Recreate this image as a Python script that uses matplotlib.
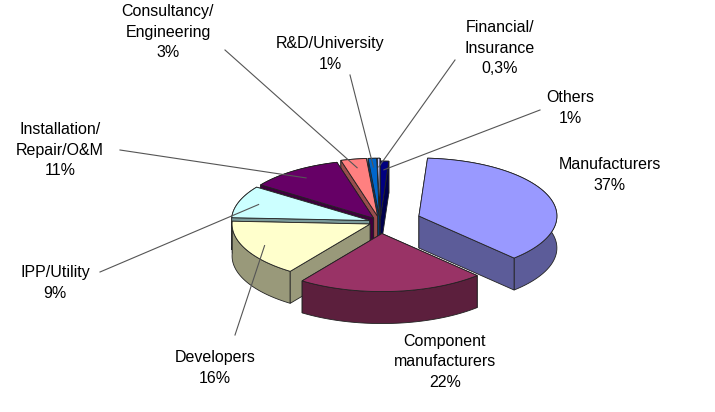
import numpy as np
import matplotlib.pyplot as plt
from matplotlib.patches import Polygon
import matplotlib.colors as mcolors

labels = ["Others\n1%", "Manufacturers\n37%", "Component\nmanufacturers\n22%", "Developers\n16%",
          "IPP/Utility\n9%", "Installation/\nRepair/O&M\n11%", "Consultancy/\nEngineering\n3%",
          "R&D/University\n1%", "Financial/\nInsurance\n0,3%"]
values = [1, 37, 22, 16, 9, 11, 3, 1, 0.3]
colors = ["#000080", "#9999FF", "#993366", "#FFFFCC", "#CCFFFF", "#660066", "#FF8080", "#0066CC", "#CCCCFF"]
explode = [0.05, 0.3, 0.2, 0.08, 0.08, 0.08, 0.1, 0.1, 0.1]

# text positions (pixel coords) and leader line anchors
text_pos = [(570, 108), (610, 175), (445, 362), (215, 368), (55, 283), (60, 150), (168, 32), (330, 54), (500, 48)]
line_from = [(540, 110), None, None, (235, 335), (100, 272), (120, 150), (225, 50), (350, 75), (455, 60)]

cx, cy, rx, ry, depth = 380, 222, 138, 58, 32

fig = plt.figure(figsize=(7.15, 4.12), dpi=100)
ax = fig.add_axes([0, 0, 1, 1])
ax.set_xlim(0, 715)
ax.set_ylim(412, 0)
ax.axis("off")

fr = np.array(values) / sum(values)
start = np.pi / 2
slices = []
for i, f in enumerate(fr):
    a0 = start
    a1 = start - f * 2 * np.pi
    start = a1
    mid = (a0 + a1) / 2
    ox = cx + explode[i] * rx * np.cos(mid)
    oy = cy - explode[i] * ry * np.sin(mid)
    slices.append((a0, a1, mid, ox, oy))

def pt(ox, oy, a, dz=0):
    return ox + rx * np.cos(a), oy - ry * np.sin(a) + dz

walls = []
for i, (a0, a1, mid, ox, oy) in enumerate(slices):
    dark = np.array(mcolors.to_rgb(colors[i])) * 0.6
    ang = np.linspace(a0, a1, 60)
    top = [pt(ox, oy, a) for a in ang]
    bot = [pt(ox, oy, a, depth) for a in ang[::-1]]
    walls.append((oy - ry * np.sin(mid) * 0.5 + 0.01 * i, top + bot, dark))
    for a in (a0, a1):
        p = pt(ox, oy, a)
        walls.append((oy - ry * np.sin(a) * 0.5, [(ox, oy), p, (p[0], p[1] + depth), (ox, oy + depth)], dark))
for z, poly, c in sorted(walls, key=lambda w: w[0]):
    ax.add_patch(Polygon(poly, closed=True, facecolor=c, edgecolor="#222222", lw=0.6))
for i, (a0, a1, mid, ox, oy) in enumerate(slices):
    ang = np.linspace(a0, a1, 80)
    poly = [(ox, oy)] + [pt(ox, oy, a) for a in ang]
    ax.add_patch(Polygon(poly, closed=True, facecolor=colors[i], edgecolor="#222222", lw=0.6))

for i, (a0, a1, mid, ox, oy) in enumerate(slices):
    tx, ty = text_pos[i]
    ax.text(tx, ty, labels[i], ha="center", va="center", fontsize=11.5,
            family="Liberation Sans", linespacing=1.45)
    if line_from[i] is not None:
        ex, ey = pt(ox, oy, mid)
        ex = ox + 0.85 * (ex - ox)
        ey = oy + 0.85 * (ey - oy)
        ax.plot([line_from[i][0], ex], [line_from[i][1], ey], color="#555555", lw=0.8)

fig.savefig("out.png", dpi=100)
